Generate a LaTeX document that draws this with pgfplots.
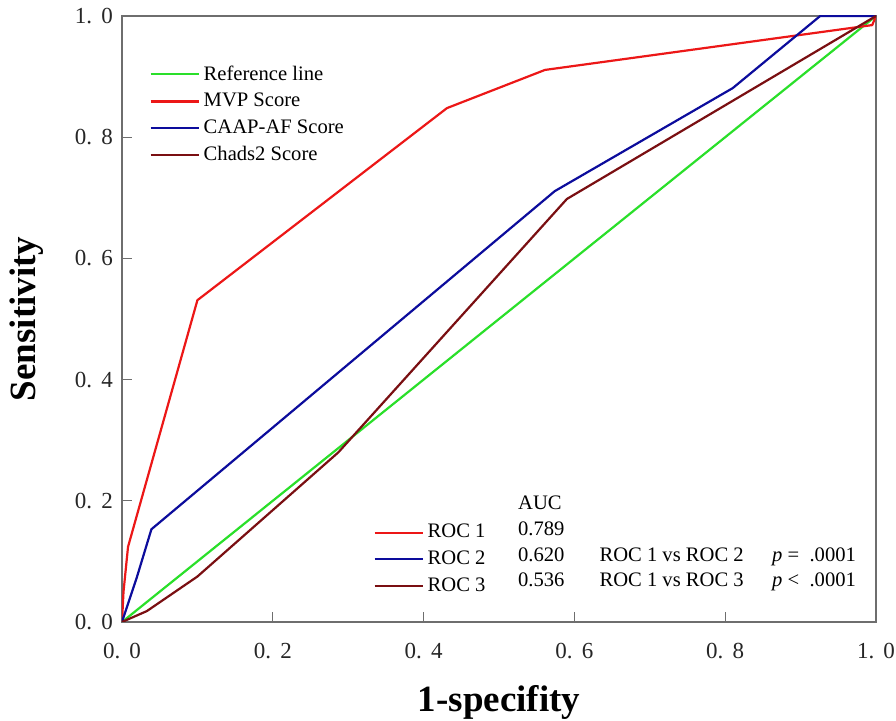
\documentclass[border=0pt]{standalone}
\usepackage{pgfplots}
\pgfplotsset{compat=1.18}
\usepackage{fontspec}
\setmainfont{Liberation Serif}
\usetikzlibrary{calc}
\definecolor{cRef}{HTML}{2ADF2A}
\definecolor{cMVP}{HTML}{EC1717}
\definecolor{cCAAP}{HTML}{0C0C9C}
\definecolor{cChads}{HTML}{7A0F12}
\definecolor{cAxis}{HTML}{6E6E6E}

\pgfplotsset{
  longline/.style={legend image code/.code={
    \draw[##1, line width=1.1pt] plot coordinates {(0pt,0pt) (24pt,0pt)};}},
}
\newcommand{\tl}[2]{#1.\hspace{0.4em}#2}

\begin{document}
\begin{tikzpicture}
\begin{axis}[
  name=main,
  scale only axis, width=377pt, height=303pt,
  xmin=0, xmax=1, ymin=0, ymax=1,
  axis line style={cAxis, line width=0.8pt},
  tick style={cAxis, line width=0.6pt},
  tick align=inside, major tick length=5pt,
  xtick={0,0.2,0.4,0.6,0.8,1}, ytick={0,0.2,0.4,0.6,0.8,1},
  xticklabels={\tl00,\tl02,\tl04,\tl06,\tl08,\tl10},
  yticklabels={\tl00,\tl02,\tl04,\tl06,\tl08,\tl10},
  xtick pos=bottom, ytick pos=left,
  ticklabel style={font=\fontsize{11.5}{13}\selectfont, text=black!85},
  xticklabel style={yshift=-7pt},
  yticklabel style={xshift=-1pt},
  xlabel={\textbf{1-specifity}}, ylabel={\textbf{Sensitivity}},
  label style={font=\fontsize{18.5}{20}\selectfont},
  xlabel style={at={(axis description cs:0.5,-0.1485)}, anchor=base},
  ylabel style={at={(axis description cs:-0.126,0.5)}, anchor=center},
  legend cell align=left, longline,
  legend style={at={(0.028,0.932)}, anchor=north west, draw=none, fill=none,
    font=\fontsize{10.3}{12.5}\selectfont, row sep=1pt},
  every axis plot/.append style={line width=1.1pt},
]
\addplot[cRef] coordinates {(0,0) (1,1)};
\addlegendentry{Reference line}
\addplot[cMVP] coordinates {(0,0) (0.002,0.05) (0.008,0.124) (0.1,0.531) (0.431,0.848) (0.561,0.911) (0.995,0.985) (1,1)};
\addlegendentry{MVP Score}
\addplot[cCAAP] coordinates {(0,0) (0.02,0.075) (0.039,0.153) (0.574,0.711) (0.81,0.881) (0.926,1) (1,1)};
\addlegendentry{CAAP-AF Score}
\addplot[cChads] coordinates {(0,0) (0.033,0.018) (0.1,0.075) (0.287,0.28) (0.59,0.698) (1,1)};
\addlegendentry{Chads2 Score}

\node[anchor=base west, font=\fontsize{10.3}{12}\selectfont] at (axis cs:0.516,0.186) {AUC};
\node[anchor=base west, font=\fontsize{10.3}{12}\selectfont] at (axis cs:0.516,0.143) {0.789};
\node[anchor=base west, font=\fontsize{10.3}{12}\selectfont] at (axis cs:0.516,0.099) {0.620};
\node[anchor=base west, font=\fontsize{10.3}{12}\selectfont] at (axis cs:0.516,0.058) {0.536};
\node[anchor=base west, font=\fontsize{10.3}{12}\selectfont] at (axis cs:0.624,0.099) {ROC 1 vs ROC 2};
\node[anchor=base west, font=\fontsize{10.3}{12}\selectfont] at (axis cs:0.624,0.058) {ROC 1 vs ROC 3};
\node[anchor=base west, font=\fontsize{10.3}{12}\selectfont] at (axis cs:0.853,0.099) {\textit{p} =\ \ .0001};
\node[anchor=base west, font=\fontsize{10.3}{12}\selectfont] at (axis cs:0.853,0.058) {\textit{p} <\ \ .0001};
\end{axis}
\begin{axis}[
  scale only axis, width=377pt, height=303pt,
  xmin=0, xmax=1, ymin=0, ymax=1, hide axis,
  legend cell align=left, longline,
  legend style={at={(0.325,0.175)}, anchor=north west, draw=none, fill=none,
    font=\fontsize{10.3}{12.5}\selectfont, row sep=1pt},
]
\addlegendimage{cMVP}
\addlegendentry{ROC 1}
\addlegendimage{cCAAP}
\addlegendentry{ROC 2}
\addlegendimage{cChads}
\addlegendentry{ROC 3}
\end{axis}
\pgfresetboundingbox
\path[use as bounding box] ($(main.south west)+(-61pt,-49.5pt)$) rectangle ($(main.north east)+(10pt,8pt)$);
\end{tikzpicture}
\end{document}
